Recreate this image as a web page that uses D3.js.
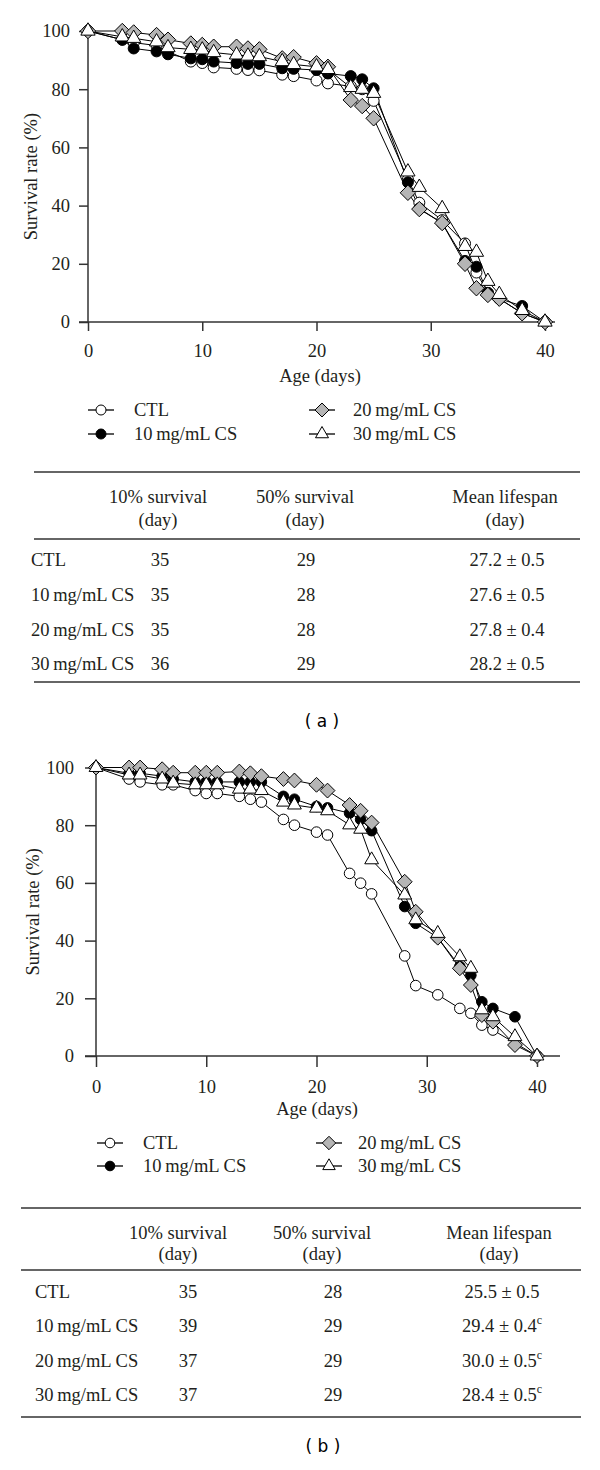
<!DOCTYPE html>
<html><head><meta charset="utf-8">
<script src="https://cdn.jsdelivr.net/npm/d3@7"></script>
<style>body{margin:0;background:#fff}svg{display:block}</style>
</head><body>
<script>
// ---------- DATA ----------
const days = [0,3,4,6,7,9,10,11,13,14,15,17,18,20,21,23,24,25,28,29,31,33,34,35,36,38,40];
const seriesNames = ["CTL","10\u2009mg/mL CS","20\u2009mg/mL CS","30\u2009mg/mL CS"];
// panel (a)
const ctlA  = [100,97,96,95,93,89.5,89,87.5,87,86.6,86.5,85,84.5,83,82,81,80,76,49,41,35,27,17,10,8,3,0];
const cs10A = [100,97,94,93,92,90.6,90.3,89.5,89,88.7,88.7,87.2,87,86.6,85.4,84.5,83.4,80.3,48,39,34,21,19,10,8,5.5,0];
const cs20A = [100,100,99.5,98.6,97,95.7,95.2,94.6,94.6,94,93.7,90.6,91,88.9,87.7,76.3,74.2,70,44.4,38.8,34,20,11.6,9.3,8,3,0];
const cs30A = [100,98,97.5,96.3,94.3,93.7,93.5,92.6,91.8,91.4,91.2,89.5,88.5,87.7,86.8,80.6,80,78.6,51.6,46.3,39,26,24,14,9.5,4,0];
// panel (b)
const ctlB  = [100,96,95,94,94,92,91,91,90,89,88,82,80,77.6,76.6,63.3,59.9,56.2,34.7,24.4,21.2,16.5,14.8,10.7,9,null,0];
const cs10B = [100,98,98,97,96,95,95,95,95,95,95,90,89,86.5,86,84.2,82,78.1,51.8,46,41,31,28,18.8,16.5,13.6,0];
const cs20B = [100,100,100,99.4,98.2,98.2,98.2,98.2,98.6,98,97,96,95.5,94,92,87,85,80.9,60.4,50,41,30.4,24.6,14.2,11.9,3.8,0];
const cs30B = [100,97.4,97.4,96,94.6,94,94,94,92.5,92.5,92,88,87,85.9,85,80.1,78.6,68,55.8,47.2,42.5,34.4,30.4,16,13.6,6.7,0];
const yTicks = [0,20,40,60,80,100];
const xTicks = [0,10,20,30,40];
// tables
const tableHeaders = [["10% survival","(day)"],["50% survival","(day)"],["Mean lifespan","(day)"]];
const surv10A = [35,35,35,36], surv50A = [29,28,28,29];
const meanA = [27.2,27.6,27.8,28.2], semA = [0.5,0.5,0.4,0.5], supA = ["","","",""];
const surv10B = [35,39,37,37], surv50B = [28,29,29,29];
const meanB = [25.5,29.4,30.0,28.4], semB = [0.5,0.4,0.5,0.5], supB = ["","c","c","c"];

// ---------- DRAW ----------
const W = 600, H = 1470;
const svg = d3.select("body").append("svg").attr("width",W).attr("height",H);
const FONT = "'Liberation Serif','Times New Roman',serif";
const TXT = "#231f20", AX = "#333";
const FS = 18.5;

const shapes = ["circle","filled","diamond","triangle"];
function marker(sel, type, r){
  if(type==="circle"||type==="filled"){
    sel.append("circle").attr("r",r).attr("fill",type==="filled"?"#000":"#fff").attr("stroke","#000").attr("stroke-width",1);
  } else if(type==="diamond"){
    const d=r*1.4;
    sel.append("path").attr("d",`M0,${-d}L${d},0L0,${d}L${-d},0Z`).attr("fill","#b5b5b5").attr("stroke","#000").attr("stroke-width",1);
  } else {
    const h=r*1.5, w=r*1.3;
    sel.append("path").attr("d",`M0,${-h}L${w},${h/2}L${-w},${h/2}Z`).attr("fill","#fff").attr("stroke","#000").attr("stroke-width",1);
  }
}

function chart(cfg, data){
  const g = svg.append("g");
  const x = d3.scaleLinear().domain([0,40]).range([cfg.x0,cfg.x40]);
  const y = d3.scaleLinear().domain([0,100]).range([cfg.y0,cfg.y100]);
  const ya = g.append("g").attr("transform",`translate(${cfg.x0},0)`)
    .call(d3.axisLeft(y).tickValues(yTicks).tickSize(cfg.tick).tickPadding(cfg.ypad).tickSizeOuter(0));
  const xa = g.append("g").attr("transform",`translate(0,${cfg.y0})`)
    .call(d3.axisBottom(x).tickValues(xTicks).tickSize(cfg.tick).tickPadding(cfg.xpad).tickSizeOuter(0));
  [ya,xa].forEach(a=>{
    a.select(".domain").remove();
    a.selectAll("line").attr("stroke",AX).attr("stroke-width",1.5);
    a.selectAll("text").attr("font-family",FONT).attr("font-size",FS).attr("fill",TXT);
  });
  g.append("line").attr("x1",cfg.x0).attr("x2",cfg.x0).attr("y1",y(100)).attr("y2",y(0)).attr("stroke",AX).attr("stroke-width",1.5);
  g.append("line").attr("x1",cfg.x0-cfg.tick).attr("x2",cfg.xEnd).attr("y1",y(0)).attr("y2",y(0)).attr("stroke",AX).attr("stroke-width",1.5);
  g.append("text").attr("transform",`translate(${cfg.ylabX},${(y(0)+y(100))/2}) rotate(-90)`)
    .attr("text-anchor","middle").attr("dominant-baseline","central")
    .attr("font-family",FONT).attr("font-size",FS).attr("fill",TXT).text("Survival rate (%)");
  g.append("text").attr("x",cfg.xlabX).attr("y",cfg.xlabY).attr("text-anchor","middle").attr("dominant-baseline","central")
    .attr("font-family",FONT).attr("font-size",FS).attr("fill",TXT).text("Age (days)");
  const line = d3.line().x(d=>x(d[0])).y(d=>y(d[1]));
  data.forEach((vals,i)=>{
    const pts = days.map((d,j)=>[d,vals[j]]).filter(p=>p[1]!==null);
    g.append("path").attr("d",line(pts)).attr("fill","none").attr("stroke","#000").attr("stroke-width",1);
  });
  data.forEach((vals,i)=>{
    const pts = days.map((d,j)=>[d,vals[j]]).filter(p=>p[1]!==null);
    pts.forEach(p=>{
      const m = g.append("g").attr("transform",`translate(${x(p[0])},${y(p[1])})`);
      marker(m, shapes[i], cfg.r);
    });
  });
  seriesNames.forEach((name,i)=>{
    const col = i<2?0:1, row = i%2;
    const cx = cfg.legMx[col], cy = cfg.legY[row];
    g.append("line").attr("x1",cx-13).attr("x2",cx+13).attr("y1",cy).attr("y2",cy).attr("stroke","#000").attr("stroke-width",1.3);
    const m = g.append("g").attr("transform",`translate(${cx},${cy})`);
    marker(m, shapes[i], cfg.r-0.5);
    g.append("text").attr("x",cfg.legTx[col]).attr("y",cy).attr("dominant-baseline","central")
      .attr("font-family",FONT).attr("font-size",FS).attr("fill",TXT).text(name);
  });
}

function table(cfg, s10, s50, mean, sem, sup){
  const g = svg.append("g");
  const rule = yy => g.append("line").attr("x1",cfg.x1).attr("x2",cfg.x2).attr("y1",yy).attr("y2",yy).attr("stroke",AX).attr("stroke-width",1.5);
  rule(cfg.top); rule(cfg.mid); rule(cfg.bot);
  const t = (xx,yy,s,anchor)=>g.append("text").attr("x",xx).attr("y",yy).attr("text-anchor",anchor||"middle")
     .attr("dominant-baseline","central").attr("font-family",FONT).attr("font-size",FS).attr("fill",TXT).text(s);
  tableHeaders.forEach((h,i)=>{ t(cfg.cols[i],cfg.h1,h[0]); t(cfg.cols[i],cfg.h2,h[1]); });
  seriesNames.forEach((n,i)=>{
    const yy = cfg.rows[i];
    t(cfg.labX,yy,n,"start");
    t(cfg.vcols[0],yy,String(s10[i]));
    t(cfg.vcols[1],yy,String(s50[i]));
    const tx = t(cfg.vcols[2],yy,mean[i].toFixed(1)+" \u00b1 "+sem[i].toFixed(1));
    if(sup[i]) tx.append("tspan").attr("font-size",12).attr("dy",-6).text(sup[i]);
  });
  g.append("text").attr("x",cfg.capX).attr("y",cfg.capY).attr("text-anchor","middle").attr("dominant-baseline","central")
    .attr("font-family","'DejaVu Sans',sans-serif").attr("font-size",17).attr("fill","#000").text(cfg.cap);
}

chart({x0:88,x40:545,y0:322,y100:31,xEnd:555,tick:9,ypad:9,xpad:13,ylabX:31,xlabX:320,xlabY:376,r:5.5,
       legMx:[101,322],legTx:[134,353],legY:[410,434]},[ctlA,cs10A,cs20A,cs30A]);
table({x1:34,x2:580,top:472,mid:539,bot:682,h1:497,h2:520,cols:[158,305,505],vcols:[160,306,507],
       rows:[560,595,630,664],labX:31,capX:322,capY:721,cap:"( a )"},surv10A,surv50A,meanA,semA,supA);

chart({x0:96,x40:537,y0:1056,y100:767.5,xEnd:560,tick:11,ypad:11,xpad:13,ylabX:33,xlabX:317,xlabY:1109,r:5.3,
       legMx:[110,329],legTx:[143,358],legY:[1143,1166]},[ctlB,cs10B,cs20B,cs30B]);
table({x1:21,x2:581,top:1208,mid:1270,bot:1417,h1:1233,h2:1254,cols:[178,322,499],vcols:[188,333,502],
       rows:[1292,1326,1361,1395],labX:35,capX:323,capY:1446,cap:"( b )"},surv10B,surv50B,meanB,semB,supB);
</script>
</body></html>
